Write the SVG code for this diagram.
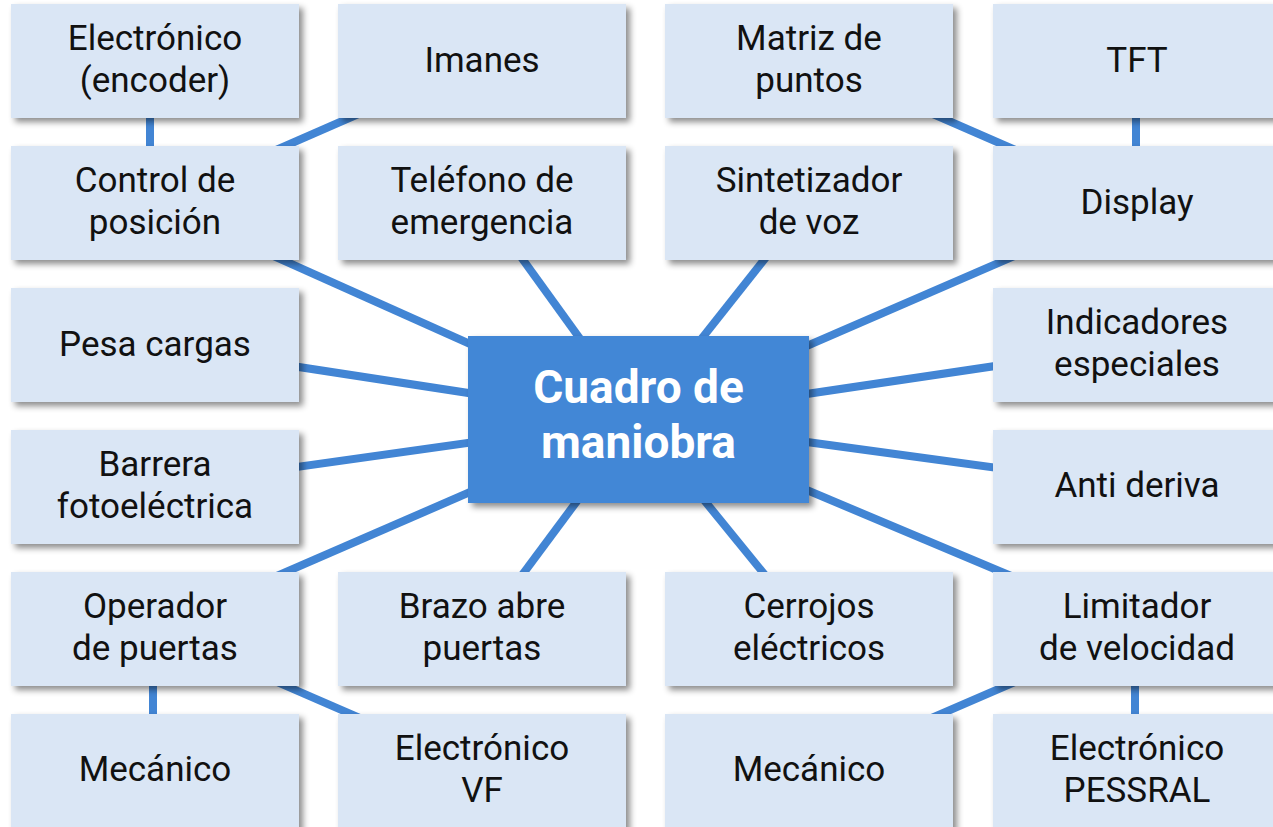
<svg xmlns="http://www.w3.org/2000/svg" width="1273" height="827" viewBox="0 0 1273 827">
<defs>
<filter id="sh" x="-10%" y="-10%" width="130%" height="140%">
<feDropShadow dx="4" dy="4" stdDeviation="3" flood-color="#000" flood-opacity="0.45"/>
</filter>
<style>
.box{fill:#dae6f5;filter:url(#sh)}
.main{fill:#4287d6;filter:url(#sh)}
.t{font-family:Roboto,"Open Sans",sans-serif;font-size:35px;fill:#111;text-anchor:middle}
.tm{font-family:Roboto,"Open Sans",sans-serif;font-size:46px;font-weight:bold;fill:#fff;text-anchor:middle}
.c line{stroke:#4285d4;stroke-width:8}
</style>
</defs>
<rect width="1273" height="827" fill="#fff"/>
<g id="connectors" class="c">
<line x1="155" y1="203" x2="638" y2="419"/>
<line x1="482" y1="203" x2="638" y2="419"/>
<line x1="809" y1="203" x2="638" y2="419"/>
<line x1="1137" y1="203" x2="638" y2="419"/>
<line x1="155" y1="345" x2="638" y2="419"/>
<line x1="1137" y1="345" x2="638" y2="419"/>
<line x1="155" y1="487" x2="638" y2="419"/>
<line x1="1137" y1="487" x2="638" y2="419"/>
<line x1="155" y1="629" x2="638" y2="419"/>
<line x1="482" y1="629" x2="638" y2="419"/>
<line x1="809" y1="629" x2="638" y2="419"/>
<line x1="1137" y1="629" x2="638" y2="419"/>
<line x1="150" y1="60" x2="150" y2="203"/>
<line x1="482" y1="60" x2="155" y2="203"/>
<line x1="809" y1="60" x2="1137" y2="203"/>
<line x1="1136" y1="60" x2="1136" y2="203"/>
<line x1="153" y1="629" x2="153" y2="771"/>
<line x1="155" y1="629" x2="482" y2="771"/>
<line x1="1137" y1="629" x2="809" y2="771"/>
<line x1="1135" y1="629" x2="1135" y2="771"/>
</g>
<g id="n-encoder"><rect class="box" x="11" y="4" width="288" height="114"/><text class="t" x="155" y="50">Electrónico</text><text class="t" x="155" y="92">(encoder)</text></g>
<g id="n-imanes"><rect class="box" x="338" y="4" width="288" height="114"/><text class="t" x="482" y="72">Imanes</text></g>
<g id="n-matriz"><rect class="box" x="665" y="4" width="288" height="114"/><text class="t" x="809" y="50">Matriz de</text><text class="t" x="809" y="92">puntos</text></g>
<g id="n-tft"><rect class="box" x="993" y="4" width="288" height="114"/><text class="t" x="1137" y="72">TFT</text></g>
<g id="n-control"><rect class="box" x="11" y="146" width="288" height="114"/><text class="t" x="155" y="192">Control de</text><text class="t" x="155" y="234">posición</text></g>
<g id="n-telefono"><rect class="box" x="338" y="146" width="288" height="114"/><text class="t" x="482" y="192">Teléfono de</text><text class="t" x="482" y="234">emergencia</text></g>
<g id="n-sintetizador"><rect class="box" x="665" y="146" width="288" height="114"/><text class="t" x="809" y="192">Sintetizador</text><text class="t" x="809" y="234">de voz</text></g>
<g id="n-display"><rect class="box" x="993" y="146" width="288" height="114"/><text class="t" x="1137" y="214">Display</text></g>
<g id="n-pesa"><rect class="box" x="11" y="288" width="288" height="114"/><text class="t" x="155" y="356">Pesa cargas</text></g>
<g id="n-indicadores"><rect class="box" x="993" y="288" width="288" height="114"/><text class="t" x="1137" y="334">Indicadores</text><text class="t" x="1137" y="376">especiales</text></g>
<g id="n-barrera"><rect class="box" x="11" y="430" width="288" height="114"/><text class="t" x="155" y="476">Barrera</text><text class="t" x="155" y="518">fotoeléctrica</text></g>
<g id="n-antideriva"><rect class="box" x="993" y="430" width="288" height="114"/><text class="t" x="1137" y="497">Anti deriva</text></g>
<g id="n-operador"><rect class="box" x="11" y="572" width="288" height="114"/><text class="t" x="155" y="618">Operador</text><text class="t" x="155" y="660">de puertas</text></g>
<g id="n-brazo"><rect class="box" x="338" y="572" width="288" height="114"/><text class="t" x="482" y="618">Brazo abre</text><text class="t" x="482" y="660">puertas</text></g>
<g id="n-cerrojos"><rect class="box" x="665" y="572" width="288" height="114"/><text class="t" x="809" y="618">Cerrojos</text><text class="t" x="809" y="660">eléctricos</text></g>
<g id="n-limitador"><rect class="box" x="993" y="572" width="288" height="114"/><text class="t" x="1137" y="618">Limitador</text><text class="t" x="1137" y="660">de velocidad</text></g>
<g id="n-mecanico1"><rect class="box" x="11" y="714" width="288" height="120"/><text class="t" x="155" y="781">Mecánico</text></g>
<g id="n-vf"><rect class="box" x="338" y="714" width="288" height="120"/><text class="t" x="482" y="760">Electrónico</text><text class="t" x="482" y="802">VF</text></g>
<g id="n-mecanico2"><rect class="box" x="665" y="714" width="288" height="120"/><text class="t" x="809" y="781">Mecánico</text></g>
<g id="n-pessral"><rect class="box" x="993" y="714" width="288" height="120"/><text class="t" x="1137" y="760">Electrónico</text><text class="t" x="1137" y="802">PESSRAL</text></g>
<g id="n-cuadro"><rect class="main" x="468" y="336" width="341" height="167"/><text class="tm" x="638.5" y="403">Cuadro de</text><text class="tm" x="638.5" y="458">maniobra</text></g>
</svg>
